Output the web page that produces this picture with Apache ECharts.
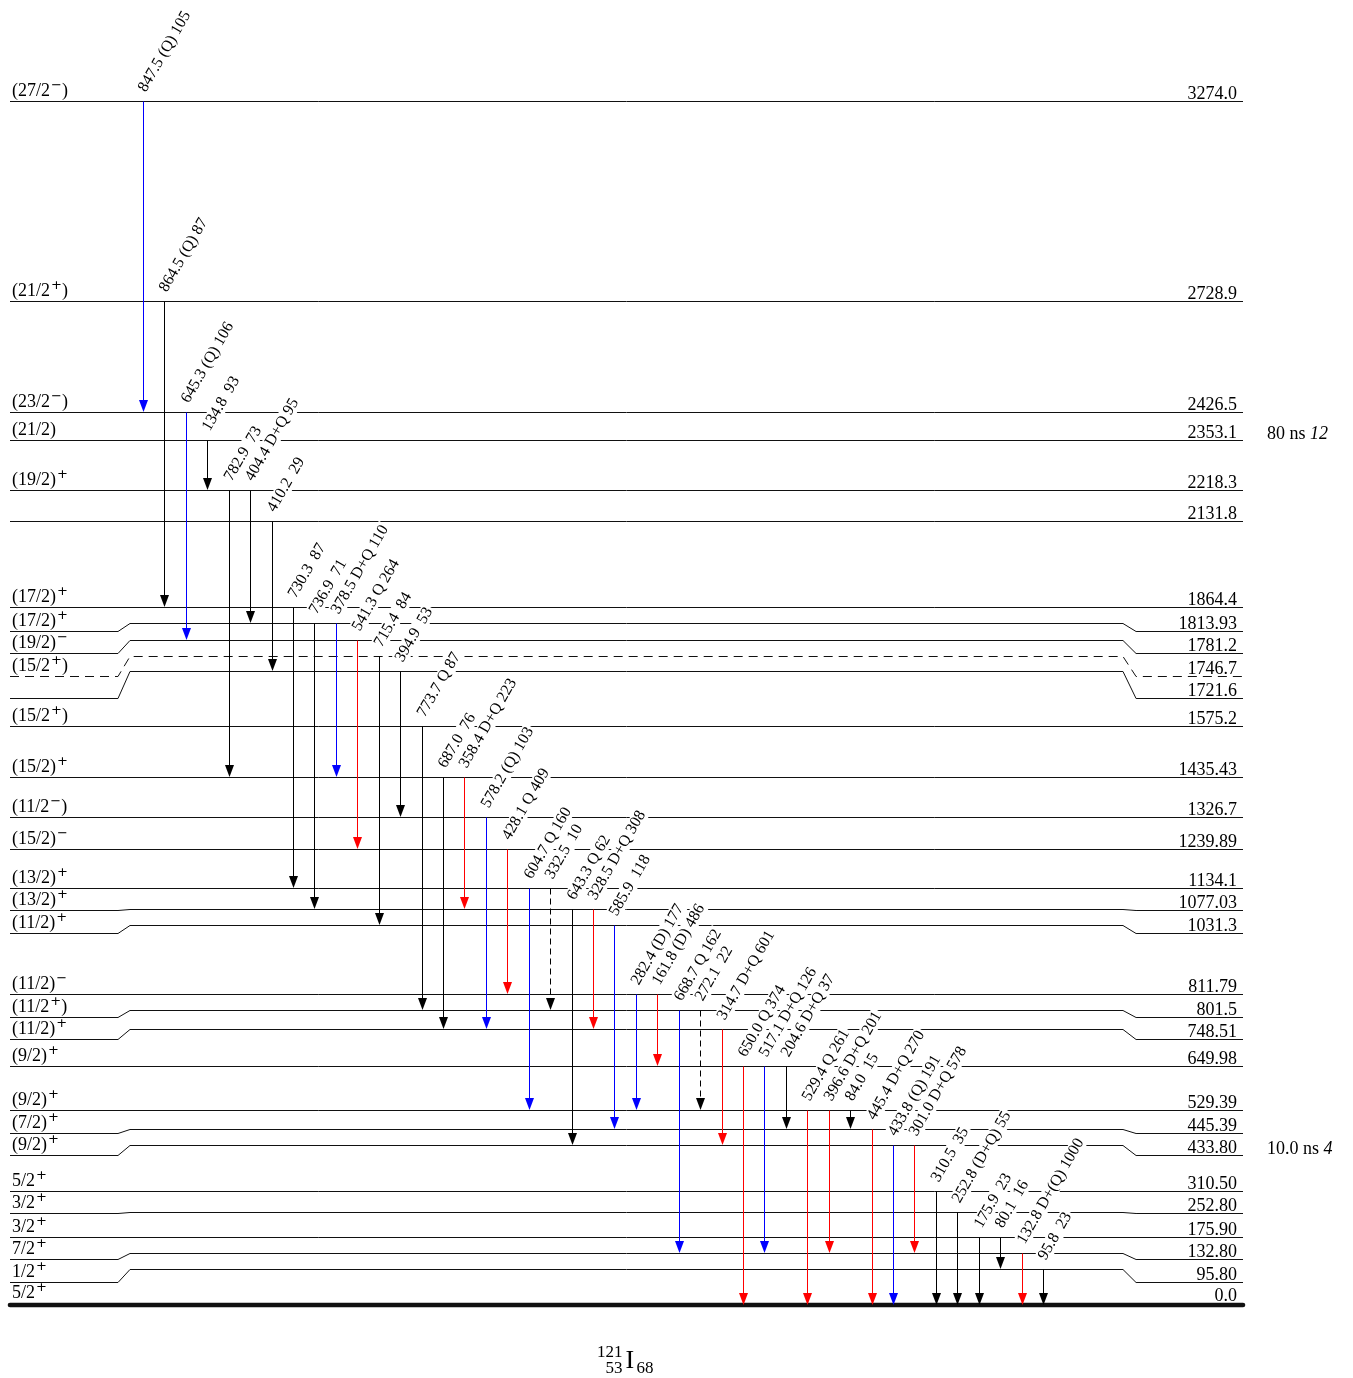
<!DOCTYPE html>
<html>
<head>
<meta charset="utf-8">
<title>121I level scheme</title>
<script src="https://cdn.jsdelivr.net/npm/echarts@6/dist/echarts.min.js"></script>
<style>
  html, body { margin: 0; padding: 0; background: #fff; }
  #chart { width: 1353px; height: 1378px; }
</style>
</head>
<body>
<div id="chart"></div>
<script>
// ---- Levels (top to bottom) ----
const levelEnergy = ['3274.0', '2728.9', '2426.5', '2353.1', '2218.3', '2131.8', '1864.4', '1813.93',
  '1781.2', '1746.7', '1721.6', '1575.2', '1435.43', '1326.7', '1239.89', '1134.1', '1077.03', '1031.3',
  '811.79', '801.5', '748.51', '649.98', '529.39', '445.39', '433.80', '310.50', '252.80', '175.90',
  '132.80', '95.80', '0.0'];
const levelSpin = ['(27/2^−)', '(21/2^+)', '(23/2^−)', '(21/2)', '(19/2)^+', '', '(17/2)^+', '(17/2)^+',
  '(19/2)^−', '(15/2^+)', '', '(15/2^+)', '(15/2)^+', '(11/2^−)', '(15/2)^−', '(13/2)^+', '(13/2)^+', '(11/2)^+',
  '(11/2)^−', '(11/2^+)', '(11/2)^+', '(9/2)^+', '(9/2)^+', '(7/2)^+', '(9/2)^+', '5/2^+', '3/2^+', '3/2^+',
  '7/2^+', '1/2^+', '5/2^+'];
// schematic (not to scale) drawing height of each level: central part and the two outer ends
const levelDrawHeight = [1204, 1004, 893, 865, 815, 784, 698, 682, 665, 649, 634, 579, 528, 488, 456, 417,
  396, 380, 311, 295, 276, 239, 195, 176, 160, 114, 93, 68, 52, 36, 0];
const levelEndHeight = [1204, 1004, 893, 865, 815, 784, 698, 674, 652, 629, 607, 579, 528, 488, 456, 417,
  395, 372, 311, 288, 266, 239, 195, 172, 150, 114, 92, 68, 46, 23, 0];
const levelTentative = ['1746.7'];
const halfLifeLevel = ['2353.1', '433.80'];
const halfLifeValue = ['80 ns', '10.0 ns'];
const halfLifeError = ['12', '4'];

// ---- Gamma transitions (left to right) ----
const gammaEnergy = ['847.5', '864.5', '645.3', '134.8', '782.9', '404.4', '410.2', '730.3', '736.9', '378.5',
  '541.3', '715.4', '394.9', '773.7', '687.0', '358.4', '578.2', '428.1', '604.7', '332.5', '643.3', '328.5',
  '585.9', '282.4', '161.8', '668.7', '272.1', '314.7', '650.0', '517.1', '204.6', '529.4', '396.6', '84.0',
  '445.4', '433.8', '301.0', '310.5', '252.8', '175.9', '80.1', '132.8', '95.8'];
const gammaMult = ['(Q)', '(Q)', '(Q)', '', '', 'D+Q', '', '', '', 'D+Q', 'Q', '', '', 'Q', '', 'D+Q', '(Q)',
  'Q', 'Q', '', 'Q', 'D+Q', '', '(D)', '(D)', 'Q', '', 'D+Q', 'Q', 'D+Q', 'D+Q', 'Q', 'D+Q', '', 'D+Q', '(Q)',
  'D+Q', '', '(D+Q)', '', '', 'D+(Q)', ''];
const gammaIntensity = [105, 87, 106, 93, 73, 95, 29, 87, 71, 110, 264, 84, 53, 87, 76, 223, 103, 409, 160,
  10, 62, 308, 118, 177, 486, 162, 22, 601, 374, 126, 37, 261, 201, 15, 270, 191, 578, 35, 55, 23, 16, 1000, 23];
const gammaFrom = ['3274.0', '2728.9', '2426.5', '2353.1', '2218.3', '2218.3', '2131.8', '1864.4', '1813.93',
  '1813.93', '1781.2', '1746.7', '1721.6', '1575.2', '1435.43', '1435.43', '1326.7', '1239.89', '1134.1',
  '1134.1', '1077.03', '1077.03', '1031.3', '811.79', '811.79', '801.5', '801.5', '748.51', '649.98', '649.98',
  '649.98', '529.39', '529.39', '529.39', '445.39', '433.80', '433.80', '310.50', '252.80', '175.90', '175.90',
  '132.80', '95.80'];
const gammaTo = ['2426.5', '1864.4', '1781.2', '2218.3', '1435.43', '1813.93', '1721.6', '1134.1', '1077.03',
  '1435.43', '1239.89', '1031.3', '1326.7', '801.5', '748.51', '1077.03', '748.51', '811.79', '529.39', '801.5',
  '433.80', '748.51', '445.39', '529.39', '649.98', '132.80', '529.39', '433.80', '0.0', '132.80', '445.39',
  '0.0', '132.80', '445.39', '0.0', '0.0', '132.80', '0.0', '0.0', '0.0', '95.80', '0.0', '0.0'];
const gammaTentative = ['332.5', '272.1'];

// ---- drawing setup ----
const SERIF = '"Liberation Serif", "DejaVu Serif", serif';
const SIGN_FONT = '"DejaVu Sans", sans-serif';
const X_MIN = -6.206, X_MAX = 51.33;          // horizontal extent, in transition columns
const KINK_L = [-1.167, -0.607], KINK_R = [45.73, 46.34];

// strong / medium / weak transitions
function intensityColor(v) {
  if (v >= 200) return '#ff0000';
  if (v >= 100) return '#0000ff';
  return '#000000';
}

function levelIndex(e) { return levelEnergy.indexOf(e); }

function spinRich(s) {
  return s.replace(/\^([+−])/g, '{s|$1}');
}

const px = v => Math.round(v) + 0.5;

function renderLevel(params, api) {
  const i = params.dataIndex;
  const hMid = api.value(1), hEnd = api.value(2);
  const ground = levelEnergy[i] === '0.0';
  const dashed = levelTentative.indexOf(levelEnergy[i]) >= 0;
  const pts = [];
  if (hMid === hEnd) {
    pts.push(api.coord([X_MIN, hMid]), api.coord([X_MAX, hMid]));
  } else {
    pts.push(api.coord([X_MIN, hEnd]), api.coord([KINK_L[0], hEnd]), api.coord([KINK_L[1], hMid]),
      api.coord([KINK_R[0], hMid]), api.coord([KINK_R[1], hEnd]), api.coord([X_MAX, hEnd]));
  }
  const points = pts.map(p => [p[0], ground ? p[1] : px(p[1])]);
  const left = api.coord([X_MIN, hEnd]);
  const right = api.coord([X_MAX, hEnd]);
  const lift = ground ? 2 : 0;
  const children = [{
    type: 'polyline',
    shape: { points: points },
    style: {
      stroke: '#111', lineWidth: ground ? 4.6 : 1, fill: null,
      lineDash: dashed ? [9, 6] : null, lineCap: ground ? 'round' : 'butt'
    }
  }];
  if (levelSpin[i]) {
    children.push({
      type: 'text',
      x: left[0] + 2, y: left[1] + 2.5 - lift,
      style: {
        text: spinRich(levelSpin[i]), fontFamily: SERIF, fontSize: 18, lineHeight: 24, fill: '#000',
        align: 'left', verticalAlign: 'bottom',
        rich: { s: { fontFamily: SIGN_FONT, fontSize: 13, lineHeight: 13, padding: [0, 0, 11, 1] } }
      }
    });
  }
  children.push({
    type: 'text',
    x: right[0] - 6, y: right[1] + 3 - lift,
    style: {
      text: levelEnergy[i], fontFamily: SERIF, fontSize: 18, lineHeight: 20, fill: '#000',
      align: 'right', verticalAlign: 'bottom'
    }
  });
  const h = halfLifeLevel.indexOf(levelEnergy[i]);
  if (h >= 0) {
    children.push({
      type: 'text',
      x: right[0] + 24, y: right[1] + 4,
      style: {
        text: halfLifeValue[h] + ' {i|' + halfLifeError[h] + '}', fontFamily: SERIF, fontSize: 18,
        lineHeight: 20, fill: '#000', align: 'left', verticalAlign: 'bottom',
        rich: { i: { fontFamily: SERIF, fontSize: 18, lineHeight: 20, fontStyle: 'italic' } }
      }
    });
  }
  return { type: 'group', children: children };
}

function renderGamma(params, api) {
  const i = params.dataIndex;
  const top = api.coord([api.value(0), api.value(1)]);
  const tip = api.coord([api.value(0), api.value(2)]);
  const x = px(top[0]);
  const y0 = px(top[1]);
  const y1 = Math.round(tip[1]);
  const color = intensityColor(gammaIntensity[i]);
  const dashed = gammaTentative.indexOf(gammaEnergy[i]) >= 0;
  const mult = gammaMult[i];
  const label = gammaEnergy[i] + (mult ? ' ' + mult + ' ' : '  ') + gammaIntensity[i];
  return {
    type: 'group',
    children: [{
      type: 'line',
      shape: { x1: x, y1: y0, x2: x, y2: y1 - 10 },
      style: { stroke: color, lineWidth: 1, lineDash: dashed ? [6, 4] : null }
    }, {
      type: 'polygon',
      shape: { points: [[x - 4.5, y1 - 12], [x + 4.5, y1 - 12], [x, y1]] },
      style: { fill: color }
    }, {
      type: 'text',
      x: x + 5, y: y0 - 6,
      rotation: Math.PI / 3,
      style: {
        text: label, fontFamily: SERIF, fontSize: 16, fill: '#000',
        align: 'left', verticalAlign: 'bottom', backgroundColor: '#fff', padding: [0, 2, 0, 1]
      }
    }]
  };
}

const levelData = levelEnergy.map((e, i) => [i, levelDrawHeight[i], levelEndHeight[i]]);
const gammaData = gammaEnergy.map((e, i) => [i, levelDrawHeight[levelIndex(gammaFrom[i])],
  levelDrawHeight[levelIndex(gammaTo[i])]]);

const chart = echarts.init(document.getElementById('chart'), null, { renderer: 'canvas' });
chart.setOption({
  animation: false,
  backgroundColor: '#fff',
  grid: { left: 10, right: 110, top: 101, bottom: 73 },
  xAxis: { type: 'value', min: X_MIN, max: X_MAX, show: false },
  yAxis: { type: 'value', min: 0, max: 1204, show: false },
  series: [
    { type: 'custom', name: 'levels', renderItem: renderLevel, data: levelData, clip: false, z: 1 },
    { type: 'custom', name: 'transitions', renderItem: renderGamma, data: gammaData, clip: false, z: 2 }
  ],
  graphic: [{
    type: 'group', left: 597, top: 1344,
    children: [
      { type: 'text', x: 25, y: 20, style: { text: '121', font: '17px ' + SERIF, fill: '#000', align: 'right', verticalAlign: 'bottom' } },
      { type: 'text', x: 25, y: 36, style: { text: '53', font: '17px ' + SERIF, fill: '#000', align: 'right', verticalAlign: 'bottom' } },
      { type: 'text', x: 28, y: 33, style: { text: 'I', font: '26px ' + SERIF, fill: '#000', align: 'left', verticalAlign: 'bottom' } },
      { type: 'text', x: 39, y: 36, style: { text: '68', font: '17px ' + SERIF, fill: '#000', align: 'left', verticalAlign: 'bottom' } }
    ]
  }]
});
</script>
</body>
</html>
